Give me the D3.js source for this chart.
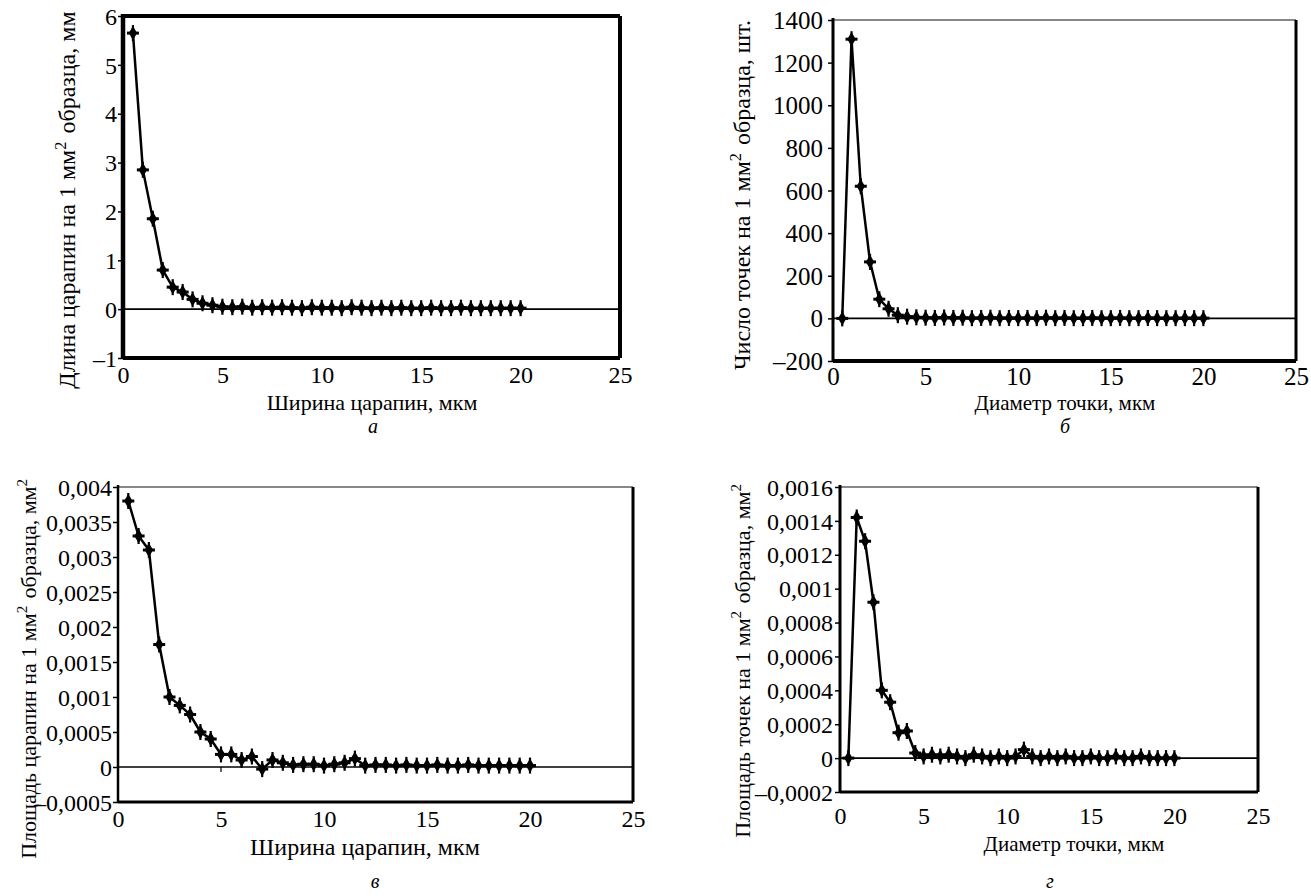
<!DOCTYPE html>
<html><head><meta charset="utf-8">
<script src="https://cdn.jsdelivr.net/npm/d3@7"></script>
<style>
html,body{margin:0;padding:0;background:#fff;}
svg text{font-family:"Liberation Serif","Times New Roman",serif;fill:#000;}
</style></head>
<body>
<svg id="c" width="1311" height="896"></svg>
<script>
// ---- data ----
const xVals = [0.5,1,1.5,2,2.5,3,3.5,4,4.5,5,5.5,6,6.5,7,7.5,8,8.5,9,9.5,10,10.5,11,11.5,12,12.5,13,13.5,14,14.5,15,15.5,16,16.5,17,17.5,18,18.5,19,19.5,20];
const lengthVals = [5.65,2.85,1.85,0.80,0.45,0.35,0.20,0.12,0.08,0.05,0.04,0.05,0.03,0.04,0.03,0.04,0.03,0.02,0.04,0.03,0.03,0.02,0.04,0.03,0.02,0.03,0.02,0.03,0.02,0.02,0.03,0.02,0.02,0.03,0.02,0.02,0.02,0.02,0.02,0.02];
const countVals = [0,1310,620,265,90,45,15,8,5,3,2,4,2,3,1,2,3,1,2,1,2,1,3,1,2,1,1,2,1,1,2,1,1,2,1,1,1,1,1,1];
const scratchAreaVals = [0.0038,0.0033,0.0031,0.00175,0.0010,0.00088,0.00075,0.00050,0.00040,0.00018,0.00018,0.00010,0.00015,-0.00003,0.00010,0.00006,0.00003,0.00004,0.00004,0.00002,0.00004,0.00006,0.00012,0.00002,0.00003,0.00003,0.00002,0.00003,0.00002,0.00002,0.00003,0.00002,0.00002,0.00003,0.00002,0.00002,0.00002,0.00002,0.00002,0.00002];
const pointAreaVals = [0,0.00142,0.00128,0.00092,0.00040,0.00033,0.00015,0.00016,0.00003,0.00001,0.00002,0.00001,0.00002,0.00001,0,0.00002,0.00001,0,0.00001,0,0.00001,0.00005,0.00001,0,0.00001,0,0.00001,0,0,0.00001,0,0,0.00001,0,0,0.00001,0,0,0,0];

const xTicks = [0,5,10,15,20,25];
const yTicksA = [-1,0,1,2,3,4,5,6];
const yTicksB = [-200,0,200,400,600,800,1000,1200,1400];
const yTicksV = [-0.0005,0,0.0005,0.001,0.0015,0.002,0.0025,0.003,0.0035,0.004];
const yTicksG = [-0.0002,0,0.0002,0.0004,0.0006,0.0008,0.001,0.0012,0.0014,0.0016];

const xTitleScratch = "Ширина царапин, мкм";
const xTitlePoint = "Диаметр точки, мкм";
const panelLetters = ["а","б","в","г"];

// ---- helpers ----
const svg = d3.select("#c");
function fmt(v){
  let s = String(+v.toPrecision(6));
  s = s.replace(".", ",");
  if (v < 0) s = "–" + s.slice(1);
  return s;
}

function drawPanel(cfg){
  const {L,R,T,B,yDom,yTicks,ys,yTitle,yTitleX,yTitleY,xTitle,xTitleX,xTitleY,letter,letterX,letterY,border} = cfg;
  const g = svg.append("g");
  const x = d3.scaleLinear().domain([0,25]).range([L,R]);
  const y = d3.scaleLinear().domain(yDom).range([B,T]);

  // y axis ticks + labels
  const ya = d3.axisLeft(y).tickValues(yTicks).tickSize(5).tickFormat(fmt);
  const yg = g.append("g").attr("transform",`translate(${L},0)`).call(ya);
  yg.attr("font-size",null).attr("font-family",null);
  yg.select(".domain").remove();
  yg.selectAll("line").attr("stroke","#000").attr("stroke-width",1.5);
  yg.selectAll("text").attr("x",-(5+cfg.yLabelGap)).attr("dy","0.34em")
    .style("font-size",cfg.tickFont+"px").style("font-family",'"Liberation Serif",serif');

  // x tick labels
  const xa = d3.axisBottom(x).tickValues(xTicks).tickSize(0).tickFormat(d3.format("d"));
  const xg = g.append("g").attr("transform",`translate(0,${B})`).call(xa);
  xg.attr("font-size",null).attr("font-family",null);
  xg.select(".domain").remove();
  xg.selectAll("text").attr("y",cfg.xLabelY).attr("dy","0.35em")
    .style("font-size",cfg.tickFont+"px").style("font-family",'"Liberation Serif",serif');

  // zero line
  g.append("line").attr("x1",L).attr("x2",R).attr("y1",y(0)).attr("y2",y(0))
    .attr("stroke","#000").attr("stroke-width",1.6);
  // x ticks on zero line
  g.selectAll(".xt").data(xTicks.slice(1)).enter().append("line")
    .attr("x1",d=>x(d)).attr("x2",d=>x(d)).attr("y1",y(0)).attr("y2",y(0)+5)
    .attr("stroke","#000").attr("stroke-width",1.2);

  // borders
  g.append("line").attr("x1",L).attr("x2",R).attr("y1",T).attr("y2",T)
    .attr("stroke",border.topColor).attr("stroke-width",border.top);
  g.append("line").attr("x1",L).attr("x2",R).attr("y1",B).attr("y2",B)
    .attr("stroke","#000").attr("stroke-width",border.bottom);
  g.append("line").attr("x1",R).attr("x2",R).attr("y1",T).attr("y2",B)
    .attr("stroke","#000").attr("stroke-width",border.right);
  g.append("line").attr("x1",L).attr("x2",L).attr("y1",T-2).attr("y2",B+1)
    .attr("stroke","#000").attr("stroke-width",border.left);

  // data line
  const pts = xVals.map((v,i)=>[v, ys[i]]);
  g.append("path").datum(pts)
    .attr("d", d3.line().x(d=>x(d[0])).y(d=>y(d[1])))
    .attr("fill","none").attr("stroke","#000").attr("stroke-width",2.5);
  // markers
  const mk = g.selectAll(".m").data(pts).enter().append("g")
    .attr("transform",d=>`translate(${x(d[0])},${y(d[1])})`);
  mk.append("path").attr("d", d3.symbol().type(d3.symbolDiamond).size(60)).attr("fill","#000");
  mk.append("line").attr("x1",0).attr("x2",0).attr("y1",-8).attr("y2",8).attr("stroke","#000").attr("stroke-width",2.2);
  mk.append("line").attr("x1",-6).attr("x2",6).attr("y1",0).attr("y2",0).attr("stroke","#000").attr("stroke-width",3);

  // y title (rotated), with superscripts
  const yt = g.append("text").attr("transform",`translate(${yTitleX},${yTitleY}) rotate(-90)`)
    .attr("text-anchor","middle").style("font-size",cfg.yTitleFont+"px");
  yTitle.forEach(part=>{
    if (part.sup) {
      yt.append("tspan").attr("dy",-9).style("font-size",(cfg.yTitleFont*0.68)+"px").text(part.t);
      yt.append("tspan").attr("dy",9).text("\u200A");
    } else yt.append("tspan").text(part.t);
  });

  g.append("text").attr("x",xTitleX).attr("y",xTitleY).attr("text-anchor","middle")
    .attr("dy","0.35em").style("font-size",cfg.xTitleFont+"px").text(xTitle);
  g.append("text").attr("x",letterX).attr("y",letterY).attr("text-anchor","middle")
    .attr("dy","0.35em").style("font-size","20px").attr("font-style","italic").text(letter);
}

drawPanel({L:123,R:620,T:16,B:358,yDom:[-1,6],yTicks:yTicksA,ys:lengthVals,tickFont:24,xLabelY:17,yLabelGap:1,
  yTitle:[{t:"Длина царапин на 1 мм"},{t:"2",sup:true},{t:" образца, мм"}],yTitleFont:24,
  yTitleX:75,yTitleY:200,xTitle:xTitleScratch,xTitleFont:22,xTitleX:372,xTitleY:402,
  letter:panelLetters[0],letterX:373,letterY:426,
  border:{top:4,topColor:"#000",bottom:4,right:4,left:4.5}});

drawPanel({L:833,R:1296,T:20,B:361,yDom:[-200,1400],yTicks:yTicksB,ys:countVals,tickFont:25,xLabelY:15,yLabelGap:5,
  yTitle:[{t:"Число точек на 1 мм"},{t:"2",sup:true},{t:" образца, шт."}],yTitleFont:24,
  yTitleX:750,yTitleY:195,xTitle:xTitlePoint,xTitleFont:21,xTitleX:1065,xTitleY:403,
  letter:panelLetters[1],letterX:1065,letterY:426,
  border:{top:2,topColor:"#888",bottom:4,right:3,left:3}});

drawPanel({L:118,R:633,T:487,B:802,yDom:[-0.0005,0.004],yTicks:yTicksV,ys:scratchAreaVals,tickFont:24,xLabelY:17,yLabelGap:1,
  yTitle:[{t:"Площадь царапин на 1 мм"},{t:"2",sup:true},{t:" образца, мм"},{t:"2",sup:true}],yTitleFont:22,
  yTitleX:36,yTitleY:668,xTitle:xTitleScratch,xTitleFont:24,xTitleX:365,xTitleY:847,
  letter:panelLetters[2],letterX:375,letterY:881,
  border:{top:2,topColor:"#888",bottom:3,right:3,left:2.5}});

drawPanel({L:840,R:1258,T:487,B:792,yDom:[-0.0002,0.0016],yTicks:yTicksG,ys:pointAreaVals,tickFont:24,xLabelY:24,yLabelGap:2,
  yTitle:[{t:"Площадь точек на 1 мм"},{t:"2",sup:true},{t:" образца, мм"},{t:"2",sup:true}],yTitleFont:22,
  yTitleX:750,yTitleY:660,xTitle:xTitlePoint,xTitleFont:21,xTitleX:1074,xTitleY:844,
  letter:panelLetters[3],letterX:1050,letterY:881,
  border:{top:2,topColor:"#888",bottom:3,right:3,left:3}});
</script>
</body></html>
